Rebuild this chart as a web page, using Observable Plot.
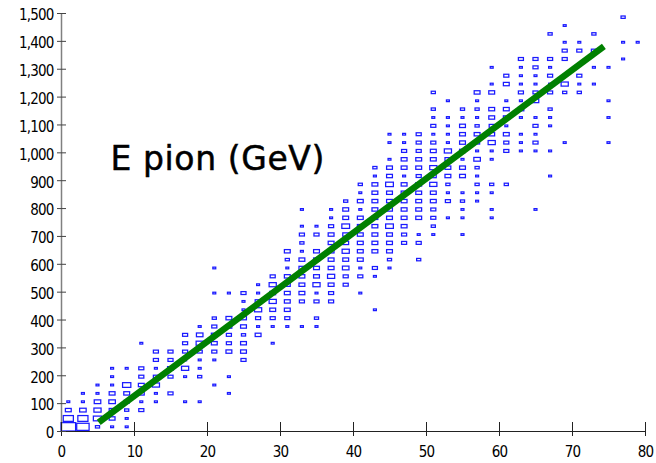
<!DOCTYPE html>
<html><head><meta charset="utf-8">
<script src="https://cdn.jsdelivr.net/npm/d3@7"></script>
<script src="https://cdn.jsdelivr.net/npm/@observablehq/plot@0.6"></script>
<style>html,body{margin:0;padding:0;background:#fff;}</style>
</head><body><div id="chart"></div>
<script>
// Tick values
const xTicks = [0, 10, 20, 30, 40, 50, 60, 70, 80];
const yTicks = [0, 100, 200, 300, 400, 500, 600, 700, 800, 900, 1000, 1100, 1200, 1300, 1400, 1500];

// Histogram binning (x bin width, y bin width, count of a full box)
const binWidthX = 2, binWidthY = 30, maxCount = 25;

// Cells: [x bin centre, y bin centre, count]
const cellsA = [ // x 1–19
 [1,15,25],[1,45,12],[1,75,4],[1,105,1],
 [3,15,18],[3,45,12],[3,75,5],[3,105,1],[3,135,1],
 [5,15,2],[5,45,8],[5,75,6],[5,105,5],[5,135,1],[5,165,1],
 [7,15,1],[7,45,4],[7,75,4],[7,105,5],[7,135,4],[7,165,1],[7,195,1],[7,225,1],
 [9,15,1],[9,45,1],[9,75,2],[9,105,3],[9,135,4],[9,165,8],[9,225,1],
 [11,75,3],[11,105,1],[11,135,4],[11,165,4],[11,195,3],[11,225,3],[11,315,1],
 [13,105,1],[13,135,1],[13,165,6],[13,195,3],[13,225,1],[13,255,3],[13,285,3],
 [15,135,3],[15,195,3],[15,225,4],[15,255,3],[15,285,3],
 [17,105,1],[17,195,1],[17,225,6],[17,255,1],[17,285,3],[17,315,3],[17,345,3],
 [19,105,1],[19,195,2],[19,225,1],[19,255,1],[19,285,3],[19,315,6],[19,345,5],[19,375,1]
];
const cellsB = [ // x 21–39
 [21,165,1],[21,255,1],[21,285,3],[21,315,4],[21,345,4],[21,375,3],[21,405,2],[21,495,1],[21,585,1],
 [23,135,1],[23,195,1],[23,285,4],[23,315,3],[23,345,3],[23,375,4],[23,405,4],[23,495,1],
 [25,255,3],[25,285,4],[25,315,4],[25,345,2],[25,375,4],[25,405,4],[25,435,1],[25,465,1],[25,495,3],
 [27,345,4],[27,375,1],[27,405,3],[27,435,6],[27,465,4],[27,495,1],[27,525,1],
 [29,315,1],[29,375,1],[29,405,3],[29,435,4],[29,465,6],[29,495,4],[29,525,6],[29,555,3],
 [31,375,1],[31,405,3],[31,435,4],[31,465,4],[31,495,4],[31,525,4],[31,555,4],[31,585,1],[31,615,2],[31,645,4],
 [33,375,1],[33,465,3],[33,495,4],[33,525,4],[33,555,4],[33,585,4],[33,615,4],[33,645,1],[33,675,2],[33,705,3],[33,735,1],[33,795,1],
 [35,375,1],[35,405,2],[35,465,3],[35,495,1],[35,525,6],[35,555,4],[35,585,4],[35,615,4],[35,645,4],[35,705,3],[35,735,1],
 [37,465,3],[37,495,3],[37,525,4],[37,555,6],[37,585,4],[37,615,4],[37,645,4],[37,675,4],[37,705,4],[37,735,3],[37,765,1],[37,795,1],
 [39,525,3],[39,555,3],[39,585,5],[39,615,4],[39,645,6],[39,675,4],[39,705,4],[39,735,7],[39,765,4],[39,795,4],[39,825,2]
];
const cellsC = [ // x 41–59
 [41,495,1],[41,555,3],[41,585,1],[41,615,4],[41,645,4],[41,675,4],[41,705,4],[41,735,4],[41,765,4],[41,795,1],[41,825,4],[41,855,1],[41,885,2],
 [43,435,1],[43,555,1],[43,585,3],[43,645,4],[43,675,4],[43,705,4],[43,735,4],[43,765,4],[43,795,4],[43,825,4],[43,855,4],[43,885,4],[43,915,1],[43,945,2],
 [45,585,1],[45,615,2],[45,645,4],[45,675,4],[45,705,4],[45,735,7],[45,765,4],[45,795,4],[45,825,4],[45,855,4],[45,885,7],[45,915,4],[45,945,4],[45,975,1],[45,1035,1],[45,1065,1],
 [47,675,3],[47,705,3],[47,735,4],[47,765,4],[47,795,4],[47,825,4],[47,855,4],[47,885,4],[47,915,1],[47,945,4],[47,975,4],[47,1005,3],[47,1035,1],[47,1065,1],
 [49,615,2],[49,675,3],[49,705,1],[49,765,4],[49,795,4],[49,825,4],[49,855,4],[49,885,4],[49,915,3],[49,945,4],[49,975,4],[49,1005,3],[49,1035,3],[49,1065,3],
 [51,705,1],[51,735,2],[51,765,3],[51,795,3],[51,825,4],[51,855,4],[51,885,6],[51,915,4],[51,945,6],[51,975,4],[51,1005,4],[51,1035,3],[51,1065,1],[51,1095,3],[51,1125,1],[51,1155,2],[51,1215,2],
 [53,765,1],[53,825,3],[53,855,1],[53,885,2],[53,915,4],[53,945,4],[53,975,4],[53,1005,6],[53,1035,1],[53,1065,1],[53,1095,1],[53,1125,1],[53,1185,1],
 [55,705,1],[55,765,1],[55,795,1],[55,825,2],[55,855,1],[55,915,4],[55,945,4],[55,975,1],[55,1005,4],[55,1035,4],[55,1065,4],[55,1095,4],[55,1125,1],[55,1155,2],
 [57,825,1],[57,855,1],[57,885,2],[57,915,1],[57,945,2],[57,975,5],[57,1005,1],[57,1035,3],[57,1065,4],[57,1095,2],[57,1125,1],[57,1155,2],[57,1185,1],[57,1215,4],
 [59,765,1],[59,795,1],[59,855,1],[59,885,2],[59,975,1],[59,1005,1],[59,1035,6],[59,1065,4],[59,1095,3],[59,1125,4],[59,1155,4],[59,1215,4],[59,1245,1],[59,1305,1]
];
const cellsD = [ // x 61–79
 [61,885,2],[61,1005,3],[61,1035,3],[61,1065,4],[61,1095,1],[61,1125,4],[61,1155,4],[61,1185,1],[61,1245,4],[61,1275,3],
 [63,1005,1],[63,1035,1],[63,1065,1],[63,1125,1],[63,1155,4],[63,1185,1],[63,1215,3],[63,1245,1],[63,1275,1],[63,1305,1],[63,1335,3],
 [65,795,1],[65,1005,1],[65,1035,3],[65,1065,1],[65,1095,3],[65,1125,1],[65,1185,5],[65,1215,3],[65,1245,1],[65,1275,1],[65,1305,3],[65,1335,3],
 [67,915,1],[67,1005,1],[67,1095,1],[67,1125,1],[67,1155,2],[67,1215,3],[67,1245,1],[67,1275,3],[67,1305,1],[67,1335,3],[67,1425,2],
 [69,1035,1],[69,1215,2],[69,1245,6],[69,1335,3],[69,1365,3],[69,1395,1],[69,1455,1],
 [71,1215,2],[71,1245,1],[71,1275,3],[71,1365,3],[71,1395,1],
 [73,1245,1],[73,1305,1],[73,1365,3],[73,1425,2],
 [75,1035,1],[75,1125,1],[75,1185,1],[75,1305,1],
 [77,1335,1],[77,1395,1],[77,1485,2],
 [79,1395,1]
];

// Fitted line end points
const fitX = [5.1, 74.3];
const fitY = [33, 1382];

const label = "E pion (GeV)";

const cells = [...cellsA, ...cellsB, ...cellsC, ...cellsD].map(([x, y, n]) => ({x, y, n}));
const frac = d => Math.sqrt(d.n / maxCount) / 2;
const fit = fitX.map((x, i) => ({x, y: fitY[i]}));

const tickFont = "'DejaVu Sans Condensed', 'Liberation Sans Narrow', sans-serif";

const chart = Plot.plot({
  width: 656, height: 463,
  marginLeft: 61, marginRight: 11, marginTop: 13, marginBottom: 32,
  x: {domain: [0, 80]},
  y: {domain: [0, 1500]},
  style: {fontFamily: tickFont, fontSize: "15px", background: "#fff", color: "#000", overflow: "visible"},
  marks: [
    Plot.rect(cells, {
      x1: d => d.x - frac(d) * binWidthX, x2: d => d.x + frac(d) * binWidthX,
      y1: d => d.y - frac(d) * binWidthY, y2: d => d.y + frac(d) * binWidthY,
      fill: "none", stroke: "#1a1aff", strokeWidth: 1.25
    }),
    Plot.ruleX([0], {stroke: "#808080", strokeWidth: 1.5}),
    Plot.ruleY([0], {stroke: "#222", strokeWidth: 1.2}),
    Plot.ruleX(xTicks, {stroke: "#222", insetTop: 409, insetBottom: -5}),
    Plot.ruleY(yTicks, {stroke: "#444", insetLeft: -4, insetRight: 579}),
    Plot.line(fit, {x: "x", y: "y", stroke: "#008000", strokeWidth: 6.5, strokeLinecap: "butt"}),
    Plot.axisX({ticks: xTicks, tickSize: 0, tickPadding: 15, tickFormat: d => String(d), label: null}),
    Plot.axisY({ticks: yTicks, tickSize: 0, tickPadding: 8, tickFormat: d3.format(","), dy: 2, label: null}),
    Plot.text([label], {text: d => d, frameAnchor: "top-left", dx: 49, dy: 146,
      textAnchor: "start", lineAnchor: "middle", fontSize: 33, fontFamily: "'DejaVu Sans', sans-serif", fill: "#000"})
  ]
});
// letter spacing: tight tick labels, slightly airy title (as in the reference)
d3.select(chart).selectAll("g[aria-label='x-axis tick label'] text, g[aria-label='y-axis tick label'] text")
  .style("letter-spacing", "-0.8px");
d3.select(chart).selectAll("g[aria-label='text'] text").style("letter-spacing", "0.6px").style("stroke", "#000").style("stroke-width", "0.5px");
document.getElementById("chart").appendChild(chart);
</script>
</body></html>
